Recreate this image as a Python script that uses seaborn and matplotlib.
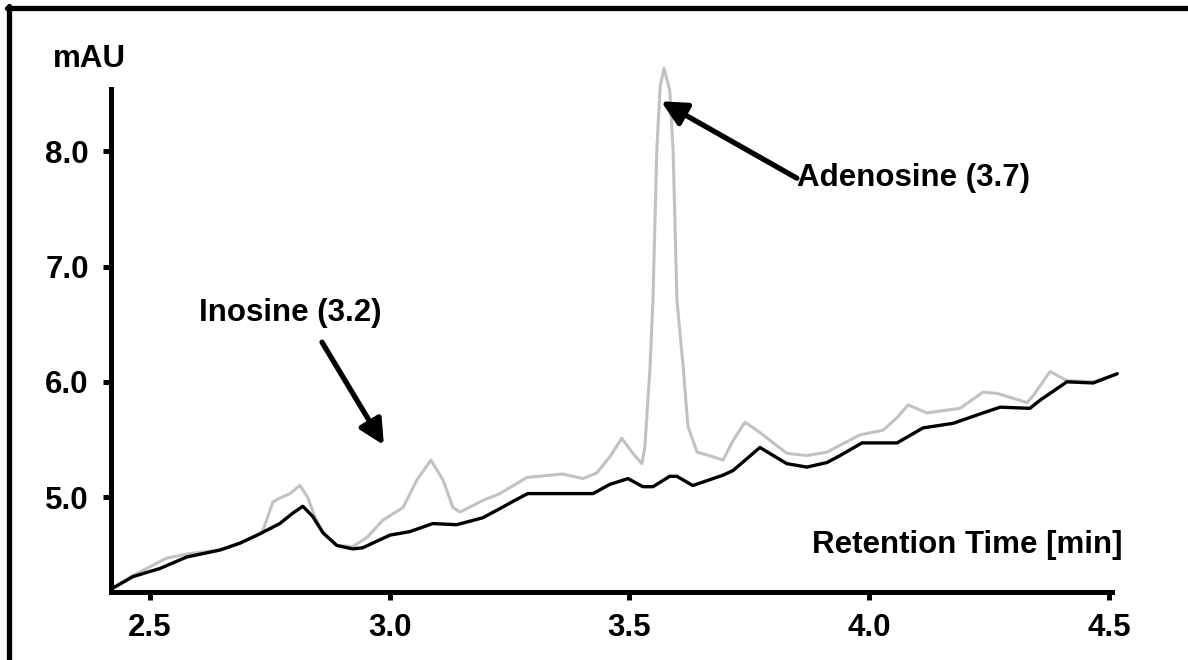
import matplotlib
matplotlib.use("Agg")
import matplotlib.pyplot as plt
from matplotlib.lines import Line2D
import pandas as pd
import seaborn as sns

# Chromatogram traces (time in min, signal in mAU)
black_time = [2.423, 2.465, 2.521, 2.577, 2.646, 2.688, 2.729, 2.771, 2.798, 2.819,
              2.840, 2.861, 2.890, 2.923, 2.944, 2.980, 3.001, 3.042, 3.090, 3.140,
              3.194, 3.230, 3.265, 3.288, 3.382, 3.424, 3.459, 3.497, 3.528, 3.549,
              3.584, 3.599, 3.632, 3.695, 3.716, 3.772, 3.828, 3.870, 3.912, 3.939,
              3.985, 4.058, 4.112, 4.175, 4.237, 4.273, 4.335, 4.356, 4.412, 4.467,
              4.517]
black_mau = [4.21, 4.31, 4.38, 4.48, 4.54, 4.60, 4.68, 4.77, 4.86, 4.92,
             4.83, 4.69, 4.58, 4.55, 4.56, 4.63, 4.67, 4.70, 4.77, 4.76,
             4.82, 4.90, 4.98, 5.03, 5.03, 5.03, 5.11, 5.16, 5.09, 5.09,
             5.18, 5.18, 5.10, 5.19, 5.23, 5.43, 5.29, 5.26, 5.30, 5.36,
             5.47, 5.47, 5.60, 5.64, 5.73, 5.78, 5.77, 5.84, 6.00, 5.99,
             6.07]

gray_time = [2.423, 2.465, 2.535, 2.583, 2.646, 2.688, 2.734, 2.757, 2.771, 2.792,
             2.813, 2.829, 2.844, 2.861, 2.890, 2.923, 2.953, 2.986, 3.028, 3.057,
             3.086, 3.111, 3.132, 3.147, 3.194, 3.230, 3.286, 3.361, 3.403, 3.432,
             3.459, 3.484, 3.507, 3.526, 3.532, 3.543, 3.549, 3.557, 3.564, 3.572,
             3.584, 3.591, 3.599, 3.612, 3.622, 3.641, 3.674, 3.695, 3.716, 3.741,
             3.772, 3.828, 3.870, 3.912, 3.939, 3.981, 4.029, 4.058, 4.081, 4.120,
             4.189, 4.237, 4.266, 4.329, 4.342, 4.377, 4.412, 4.467, 4.517]
gray_mau = [4.21, 4.32, 4.47, 4.51, 4.54, 4.60, 4.69, 4.96, 4.99, 5.03,
            5.10, 5.00, 4.83, 4.69, 4.58, 4.57, 4.65, 4.80, 4.91, 5.15,
            5.32, 5.15, 4.91, 4.87, 4.97, 5.03, 5.17, 5.20, 5.16, 5.21,
            5.35, 5.51, 5.38, 5.29, 5.43, 6.13, 6.71, 8.01, 8.56, 8.72,
            8.53, 8.01, 6.71, 6.13, 5.61, 5.39, 5.35, 5.32, 5.49, 5.65,
            5.56, 5.38, 5.36, 5.39, 5.45, 5.54, 5.58, 5.69, 5.80, 5.73,
            5.77, 5.91, 5.90, 5.82, 5.88, 6.09, 6.01, 6.00, 6.07]

x_ticks = [2.5, 3.0, 3.5, 4.0, 4.5]
y_ticks = [5.0, 6.0, 7.0, 8.0]

black_df = pd.DataFrame({"time": black_time, "mau": black_mau})
gray_df = pd.DataFrame({"time": gray_time, "mau": gray_mau})

sns.set_theme(style="ticks")
plt.rcParams["font.family"] = ["Liberation Sans", "DejaVu Sans"]
plt.rcParams["font.weight"] = "bold"
plt.rcParams["text.color"] = "black"
FS = 22.5

fig = plt.figure(figsize=(11.88, 6.6), dpi=100)
ax = fig.add_axes([0.0934, 0.103, 0.8426, 0.762])

sns.lineplot(data=gray_df, x="time", y="mau", color="#c2c2c2", linewidth=2.2,
             estimator=None, sort=False, ax=ax)
sns.lineplot(data=black_df, x="time", y="mau", color="black", linewidth=2.4,
             estimator=None, sort=False, ax=ax)
for line in ax.get_lines():
    line.set_clip_on(False)
    line.set_solid_joinstyle("round")

ax.set_xlim(2.419, 4.506)
ax.set_ylim(4.176, 8.54)
ax.set_xticks(x_ticks)
ax.set_xticklabels([f"{v:.1f}" for v in x_ticks])
ax.set_yticks(y_ticks)
ax.set_yticklabels([f"{v:.1f}" for v in y_ticks])
ax.set_xlabel("")
ax.set_ylabel("")

sns.despine(ax=ax)
for side in ["left", "bottom"]:
    ax.spines[side].set_linewidth(3.6)
    ax.spines[side].set_color("black")
ax.tick_params(axis="both", direction="out", length=6, width=3.6, color="black",
               labelsize=FS, labelcolor="black")
ax.tick_params(axis="x", pad=9)
ax.tick_params(axis="y", pad=10)
for lbl in ax.get_xticklabels() + ax.get_yticklabels():
    lbl.set_fontweight("bold")

# labels
ax.text(2.375, 8.80, "mAU", ha="center", va="center", fontsize=FS,
        fontweight="bold", color="black", clip_on=False)
ax.text(4.527, 4.58, "Retention Time [min]", ha="right", va="center",
        fontsize=FS, fontweight="bold", color="black")
ax.text(2.792, 6.60, "Inosine (3.2)", ha="center", va="center",
        fontsize=FS, fontweight="bold", color="black")
ax.text(3.849, 7.77, "Adenosine (3.7)", ha="left", va="center",
        fontsize=FS, fontweight="bold", color="black")

arrow = dict(arrowstyle="-|>,head_length=1.0,head_width=0.5", color="black",
             linewidth=3.8, mutation_scale=15, shrinkA=0, shrinkB=0)
ax.annotate("", xy=(3.566, 8.434), xytext=(3.849, 7.767), arrowprops=arrow)
ax.annotate("", xy=(2.988, 5.451), xytext=(2.859, 6.344), arrowprops=arrow)

# frame on top and left of the figure
fig.add_artist(Line2D([0.0063, 1.0], [0.9886, 0.9886], transform=fig.transFigure,
                      color="black", linewidth=3.8))
fig.add_artist(Line2D([0.0072, 0.0072], [0.0, 0.9905], transform=fig.transFigure,
                      color="black", linewidth=3.8))

fig.savefig("out.png", dpi=100)
plt.close(fig)
